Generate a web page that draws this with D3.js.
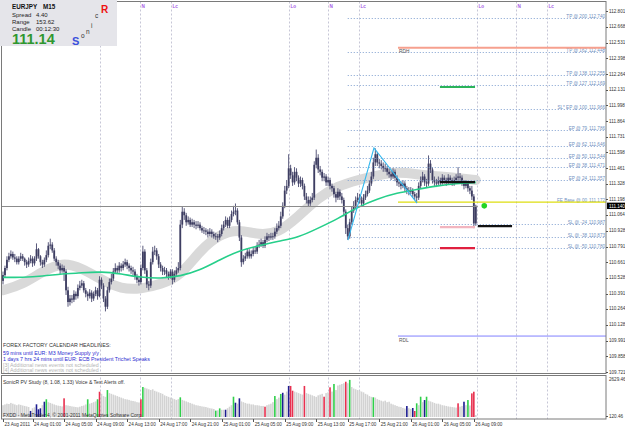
<!DOCTYPE html>
<html><head><meta charset="utf-8">
<script src="https://cdn.jsdelivr.net/npm/d3@7"></script>
<style>body{margin:0;background:#fff}svg{display:block;font-family:"Liberation Sans",Arial,sans-serif}</style>
</head><body><svg id="c" width="625" height="429"></svg>
<script>
// ---------- DATA ----------
const firstOpen = 110.50;
const closes = [
110.55,110.61,110.68,110.71,110.73,110.70,110.69,110.66,110.69,110.71,
110.69,110.66,110.64,110.67,110.69,110.65,110.69,110.77,110.71,110.66,
110.64,110.68,110.72,110.80,110.81,110.76,110.69,110.66,110.63,110.59,
110.61,110.58,110.42,110.32,110.35,110.34,110.39,110.37,110.44,110.46,
110.48,110.42,110.39,110.37,110.40,110.35,110.39,110.42,110.37,110.51,
110.46,110.35,110.28,110.42,110.49,110.52,110.58,110.61,110.59,110.63,
110.61,110.64,110.66,110.63,110.61,110.59,110.58,110.54,110.51,110.49,
110.61,110.75,110.59,110.47,110.46,110.66,110.75,110.76,110.71,110.64,
110.61,110.58,110.59,110.56,110.54,110.58,110.51,110.56,110.59,110.61,
110.98,111.09,111.06,111.00,111.02,110.98,111.00,110.98,110.97,110.98,
110.95,110.93,110.93,110.92,110.90,110.92,110.90,110.88,110.88,110.87,
110.90,110.95,110.98,111.02,110.97,111.02,111.07,111.09,111.10,111.00,
110.87,110.66,110.69,110.71,110.75,110.71,110.73,110.76,110.75,110.80,
110.81,110.83,110.80,110.85,110.88,110.87,110.88,110.88,110.92,110.95,
110.97,111.05,111.14,111.27,111.31,111.46,111.40,111.34,111.43,111.38,
111.33,111.36,111.31,111.22,111.19,111.16,111.19,111.21,111.49,111.55,
111.45,111.43,111.38,111.39,111.34,111.36,111.31,111.29,111.24,111.21,
111.26,111.22,111.19,111.09,110.95,110.88,111.00,111.10,111.14,111.19,
111.21,111.19,111.16,111.21,111.24,111.27,111.33,111.39,111.51,111.58,
111.51,111.50,111.48,111.46,111.46,111.43,111.41,111.39,111.43,111.38,
111.34,111.33,111.31,111.33,111.29,111.27,111.26,111.27,111.24,111.22,
111.21,111.31,111.36,111.39,111.34,111.33,111.50,111.45,111.36,111.34,
111.33,111.36,111.34,111.38,111.36,111.34,111.38,111.36,111.34,111.36,
111.38,111.39,111.38,111.34,111.31,111.33,111.29,111.27,111.22,110.99,111.14];
const highs = [
110.58,110.63,110.71,110.74,110.76,110.75,110.73,110.71,110.71,110.74,
110.73,110.70,110.68,110.70,110.72,110.71,110.71,110.82,110.78,110.72,
110.68,110.70,110.76,110.83,110.86,110.83,110.78,110.71,110.68,110.65,
110.64,110.63,110.60,110.45,110.38,110.38,110.42,110.41,110.47,110.50,
110.51,110.50,110.44,110.41,110.43,110.42,110.41,110.45,110.44,110.54,
110.53,110.48,110.37,110.45,110.52,110.56,110.61,110.65,110.63,110.66,
110.65,110.67,110.69,110.68,110.65,110.63,110.62,110.60,110.56,110.54,
110.64,110.80,110.77,110.61,110.50,110.69,110.79,110.80,110.78,110.73,
110.66,110.63,110.62,110.61,110.58,110.60,110.60,110.59,110.62,110.66,
111.02,111.13,111.12,111.08,111.05,111.04,111.03,111.02,111.01,111.01,
111.00,110.97,110.96,110.95,110.94,110.95,110.94,110.92,110.91,110.90,
110.93,110.98,111.01,111.05,111.04,111.05,111.10,111.14,111.16,111.12,
111.02,110.89,110.72,110.74,110.78,110.77,110.76,110.79,110.79,110.83,
110.85,110.86,110.85,110.88,110.91,110.90,110.91,110.91,110.95,110.99,
111.01,111.09,111.17,111.31,111.36,111.58,111.49,111.43,111.47,111.46,
111.40,111.39,111.38,111.33,111.25,111.22,111.22,111.25,111.52,111.62,
111.58,111.48,111.45,111.42,111.41,111.39,111.38,111.33,111.31,111.26,
111.29,111.28,111.25,111.21,111.11,110.98,111.03,111.13,111.18,111.22,
111.25,111.24,111.22,111.24,111.27,111.31,111.36,111.43,111.55,111.63,
111.60,111.54,111.53,111.51,111.50,111.48,111.46,111.44,111.46,111.45,
111.40,111.37,111.35,111.36,111.35,111.31,111.30,111.30,111.29,111.26,
111.25,111.34,111.39,111.43,111.41,111.37,111.57,111.53,111.47,111.39,
111.37,111.39,111.38,111.41,111.40,111.38,111.41,111.40,111.38,111.39,
111.41,111.47,111.42,111.40,111.36,111.36,111.35,111.31,111.31,111.24,111.15];
const lows = [
110.47,110.53,110.59,110.66,110.69,110.68,110.66,110.64,110.64,110.67,
110.67,110.63,110.61,110.62,110.65,110.62,110.63,110.67,110.69,110.63,
110.61,110.62,110.66,110.70,110.77,110.74,110.67,110.63,110.60,110.56,
110.57,110.50,110.38,110.28,110.29,110.31,110.32,110.34,110.35,110.42,
110.44,110.40,110.36,110.33,110.35,110.32,110.33,110.37,110.34,110.36,
110.43,110.32,110.24,110.26,110.40,110.47,110.50,110.56,110.56,110.57,
110.58,110.59,110.62,110.60,110.58,110.56,110.55,110.51,110.48,110.46,
110.47,110.59,110.56,110.44,110.42,110.44,110.64,110.72,110.68,110.61,
110.58,110.55,110.55,110.53,110.51,110.52,110.47,110.49,110.54,110.57,
110.59,110.95,111.02,110.97,110.98,110.96,110.96,110.95,110.94,110.95,
110.93,110.91,110.90,110.89,110.87,110.88,110.87,110.86,110.85,110.83,
110.85,110.88,110.93,110.96,110.95,110.95,111.00,111.05,111.06,110.98,
110.84,110.62,110.64,110.67,110.69,110.69,110.69,110.71,110.73,110.73,
110.78,110.79,110.78,110.78,110.83,110.84,110.85,110.85,110.86,110.90,
110.93,110.95,111.03,111.12,111.24,111.29,111.37,111.31,111.32,111.35,
111.30,111.30,111.28,111.19,111.16,111.13,111.14,111.17,111.19,111.46,
111.42,111.40,111.35,111.35,111.31,111.31,111.28,111.26,111.21,111.17,
111.19,111.19,111.16,111.05,110.90,110.85,110.86,110.98,111.08,111.12,
111.17,111.16,111.13,111.14,111.19,111.22,111.25,111.31,111.37,111.48,
111.48,111.46,111.45,111.43,111.43,111.40,111.38,111.36,111.37,111.35,
111.31,111.30,111.28,111.29,111.26,111.24,111.23,111.24,111.21,111.19,
111.17,111.19,111.29,111.34,111.31,111.30,111.31,111.42,111.33,111.31,
111.30,111.31,111.31,111.32,111.33,111.31,111.32,111.33,111.31,111.31,
111.33,111.35,111.35,111.31,111.28,111.29,111.26,111.24,111.19,110.95,110.97];
const volumes = [
900,950,1000,980,1050,1000,950,900,950,920,
880,850,820,780,520,700,760,958,628,694,
900,1130,1290,1100,1050,1000,950,900,870,850,
820,1354,900,880,850,820,800,780,760,800,
850,880,950,1290,1000,1050,1100,1150,1290,1790,
1650,1500,1450,1900,1700,1650,1600,1550,1500,1450,
1400,1350,1300,1280,1250,1200,1180,1150,1100,1080,
1290,2100,2050,2000,1950,1900,1950,1850,1800,1750,
1700,1650,1550,1500,1450,1400,1350,1300,1250,1300,
1420,1250,1200,1150,1100,1050,1000,950,900,880,
850,820,800,780,740,700,680,650,540,560,
690,600,600,600,700,800,900,1460,1064,1000,
1354,1150,1100,1050,1000,1000,950,950,900,900,
880,850,850,800,900,950,1000,1100,1506,1300,
1400,1640,1720,1600,1800,2170,2170,1856,1800,1750,
1700,1650,1600,2170,1700,1650,1600,1550,1500,1450,
1550,1600,1650,1460,1700,1750,2080,1800,2300,1900,
2200,2250,2300,2350,2450,2350,2570,2100,2000,1950,
1900,1850,1800,1750,1650,1600,1500,1450,1420,1400,
1300,1250,1200,1150,1200,1100,1130,1000,950,900,
850,800,780,720,680,846,700,650,714,516,
1024,900,1460,1100,1240,1460,1200,1150,1100,1050,
1000,1000,950,900,880,850,820,800,780,760,
740,1024,800,850,1130,900,1240,880,1680,1790,250];
const greenVolBars = [22,43,48,53,71,90,108,110,117,138,141,168,176,188,210,212,215,236];
const redVolBars = [31,49,70,133,146,147,153,163,166,174,209,231,238,239];
const blueVolBars = [14,17,18,19,21,113,118,120,142,145,205,208,214,234];

const maBars = [0,10,20,30,40,50,60,70,80,90,100,110,120,130,140,150,160,170,180,190,200,210,220,230,240];
const bandMA = [110.42,110.47,110.58,110.66,110.61,110.51,110.43,110.43,110.47,110.54,110.76,110.90,110.94,110.89,110.91,111.05,111.21,111.31,111.36,111.40,111.43,111.41,111.39,111.38,111.36];
const greenMA = [110.53,110.53,110.54,110.56,110.57,110.58,110.56,110.53,110.52,110.54,110.59,110.68,110.76,110.80,110.84,110.87,110.95,111.03,111.13,111.20,111.25,111.28,111.31,111.33,111.34];

const priceTickLabels = ["112.801","112.668","112.531","112.398","112.264","112.131","111.998","111.864","111.731","111.598","111.461","111.328","111.198","111.064","110.928","110.791","110.661","110.528","110.391","110.264","110.128","109.991","109.858","109.721"];
const xLabels = ["23 Aug 2011","24 Aug 01:00","24 Aug 05:00","24 Aug 09:00","24 Aug 13:00","24 Aug 17:00","24 Aug 21:00","25 Aug 01:00","25 Aug 05:00","25 Aug 09:00","25 Aug 13:00","25 Aug 17:00","25 Aug 21:00","26 Aug 01:00","26 Aug 05:00","26 Aug 09:00"];
const xLabelBars = [0,15,31,47,63,79,95,111,127,143,159,175,191,207,223,239];

const sessionNames = ["Lo","N","Lc","Lo","N","Lc","Lo","N","Lc"];
const sessionBars = [49.2,69.5,85.3,145.2,165,180.7,240.6,260.4,276.1];

const levelNames = ["TP @ 200","TP @ 162","TP @ 138","TP @ 127","SL* EP @ 100","EP @ 79","EP @ 62","EP @ 50","EP @ 38","EP @ 24","FE Base @ 00","SL @ -24","SL @ -38","SL @ -50"];
const levelValues = [112.740,112.448,112.255,112.169,111.966,111.786,111.646,111.544,111.471,111.357,111.172,110.987,110.873,110.780];
const levelStartBar = 175;

const zigzagBars = [175.1,188.3,210.2];
const zigzagPrices = [110.848,111.633,111.163];

const rdhPrice = 112.488, rdlPrice = 110.030, dayStartBar = 200.5;
const bidPrice = 111.140, bidText = "111.140";
const markerBar = 244.3;

const segPrices = [111.343,112.153,110.958,110.779,110.967];
const segFrom = [221.8,221.8,221.8,221.8,241.1];
const segTo = [239.6,239.6,239.6,239.6,258.4];
const segColors = ["#111111","#2bb35a","#f2b5bf","#e0203f","#111111"];

const volTop = "2629.46", volBottom = "120.46";
const newsLines = ["FOREX FACTORY CALENDAR HEADLINES:","59 mins until EUR: M3 Money Supply y/y","1 days 7 hrs 24 mins until EUR: ECB President Trichet Speaks","[3] Additional news events not scheduled","[4] Additional news events not scheduled"];
const infoRows = [["Spread","4.40"],["Range","153.62"],["Candle","00:12:30"]];

// ---------- CHART ----------
const svg = d3.select("#c");
const L=1.5, R=606, T=1.5, MB=373.5, ST=375.5, SB=419;
const x = d3.scaleLinear().domain([0,240]).range([3,475.8]);
const y = d3.scaleLinear().domain([109.721,112.801]).range([372.3,11]);
const yv = d3.scaleLinear().domain([120.46,2629.46]).range([417,379]);
const opens = closes.map((c,i)=> i===0 ? firstOpen : closes[i-1]);
const infoW = 117, infoH = 46;

svg.append("rect").attr("width",625).attr("height",429).attr("fill","#fff");
const defs = svg.append("defs");
defs.append("clipPath").attr("id","cm").append("rect").attr("x",L).attr("y",T).attr("width",R-L).attr("height",MB-T);
defs.append("clipPath").attr("id","cs").append("rect").attr("x",L).attr("y",ST).attr("width",R-L).attr("height",SB-ST);

const main = svg.append("g").attr("clip-path","url(#cm)");
const sub = svg.append("g").attr("clip-path","url(#cs)");

// session lines
[main, sub].forEach(g=>{
  g.selectAll("line.ses").data(sessionBars).join("line").attr("class","ses")
   .attr("x1",d=>Math.round(x(d))+0.5).attr("x2",d=>Math.round(x(d))+0.5)
   .attr("y1",T).attr("y2",SB).attr("stroke","#c6c6d6").attr("stroke-width",1).attr("stroke-dasharray","2,2");
});
// labels hidden under the info panel are not drawn
const visSessions = sessionBars.map((b,i)=>[b,sessionNames[i]]).filter(d=>x(d[0])>infoW);
main.selectAll("text.ses").data(visSessions).join("text").attr("class","ses")
  .attr("x",d=>Math.round(x(d[0]))+1.5).attr("y",7.5).attr("font-size",4.6).attr("font-weight","bold")
  .attr("fill","#a658e6").text(d=>d[1]);

// gray band
const ma = d3.line().x(d=>x(d[0])).y(d=>y(d[1])).curve(d3.curveBasis);
main.append("path").datum(maBars.map((b,i)=>[b,bandMA[i]])).attr("d",ma)
  .attr("fill","none").attr("stroke","#d9d9d9").attr("stroke-width",10).attr("stroke-linecap","round");

// candles
const cg = main.append("g");
cg.selectAll("line").data(closes).join("line")
  .attr("x1",(d,i)=>x(i)).attr("x2",(d,i)=>x(i))
  .attr("y1",(d,i)=>y(highs[i])).attr("y2",(d,i)=>y(lows[i]))
  .attr("stroke","#5a5a7c").attr("stroke-width",1);
cg.selectAll("rect").data(closes).join("rect")
  .attr("x",(d,i)=>x(i)-0.9).attr("width",1.8)
  .attr("y",(d,i)=>y(Math.max(d,opens[i])))
  .attr("height",(d,i)=>Math.max(0.8, Math.abs(y(d)-y(opens[i]))))
  .attr("fill","#3e3e62");

// green MA
main.append("path").datum(maBars.map((b,i)=>[b,greenMA[i]])).attr("d",ma)
  .attr("fill","none").attr("stroke","#26cf8a").attr("stroke-width",1.6);

// level lines
const lv = main.append("g");
lv.selectAll("line").data(levelValues).join("line")
  .attr("x1",x(levelStartBar)).attr("x2",R).attr("y1",d=>Math.round(y(d))+0.5).attr("y2",d=>Math.round(y(d))+0.5)
  .attr("stroke",(d,i)=>i===10?"none":"#7f9fcf").attr("stroke-width",1).attr("stroke-dasharray","1,2");
lv.selectAll("text.nm").data(levelValues).join("text").attr("class","nm")
  .attr("x",587).attr("y",d=>Math.round(y(d))-0.5).attr("text-anchor","end").attr("font-size",4.6)
  .attr("fill","#6f8fc0").text((d,i)=>levelNames[i]);
lv.selectAll("text.vl").data(levelValues).join("text").attr("class","vl")
  .attr("x",605).attr("y",d=>Math.round(y(d))-0.5).attr("text-anchor","end").attr("font-size",4.6)
  .attr("fill","#6f8fc0").text(d=>d.toFixed(3));

// RDH / RDL / FE base
main.append("line").attr("x1",x(dayStartBar)).attr("x2",R).attr("y1",y(rdhPrice)).attr("y2",y(rdhPrice))
  .attr("stroke","#f6a08e").attr("stroke-width",2);
main.append("text").attr("x",x(dayStartBar)+1).attr("y",y(rdhPrice)+5.5).attr("font-size",4.8).attr("fill","#555").text("RDH");
main.append("line").attr("x1",x(dayStartBar)).attr("x2",R).attr("y1",y(rdlPrice)).attr("y2",y(rdlPrice))
  .attr("stroke","#8080ff").attr("stroke-width",1);
main.append("text").attr("x",x(dayStartBar)+1).attr("y",y(rdlPrice)+5.5).attr("font-size",4.8).attr("fill","#555").text("RDL");
main.append("line").attr("x1",x(dayStartBar)).attr("x2",R).attr("y1",y(levelValues[10])).attr("y2",y(levelValues[10]))
  .attr("stroke","#dede10").attr("stroke-width",1.4);

// bid line
main.append("line").attr("x1",L).attr("x2",x(241)).attr("y1",Math.round(y(bidPrice))+0.5).attr("y2",Math.round(y(bidPrice))+0.5)
  .attr("stroke","#8c8c8c").attr("stroke-width",1);

// zigzag
main.append("path").datum(zigzagBars.map((b,i)=>[b,zigzagPrices[i]]))
  .attr("d",d3.line().x(d=>x(d[0])).y(d=>y(d[1])))
  .attr("fill","none").attr("stroke","#35b8ee").attr("stroke-width",1.1);

// short segments
main.selectAll("line.seg").data(segPrices).join("line").attr("class","seg")
  .attr("x1",(d,i)=>x(segFrom[i])).attr("x2",(d,i)=>x(segTo[i]))
  .attr("y1",d=>y(d)).attr("y2",d=>y(d)).attr("stroke",(d,i)=>segColors[i]).attr("stroke-width",2.2);

// marker
main.append("circle").attr("cx",x(markerBar)).attr("cy",y(bidPrice)).attr("r",2.8).attr("fill","#22d422");

// news text
svg.selectAll("text.news").data(newsLines).join("text").attr("class","news")
  .attr("x",3).attr("y",(d,i)=>[347,355,360.8,366.5,372][i]).attr("font-size",5.3)
  .attr("fill",(d,i)=>i===0?"#333":(i<3?"#2b2bd0":"#b4b4b4")).text(d=>d);

// volumes
const col = i => greenVolBars.includes(i)?"#2fcf4a":redVolBars.includes(i)?"#e8304f":blueVolBars.includes(i)?"#1c1c90":"#d3d3d3";
sub.selectAll("rect.v").data(volumes).join("rect").attr("class","v")
  .attr("x",(d,i)=>x(i)-0.8).attr("width",1.6)
  .attr("y",d=>yv(d)).attr("height",d=>yv(120.46)-yv(d)).attr("fill",(d,i)=>col(i));
svg.append("text").attr("x",3).attr("y",383.5).attr("font-size",5).attr("fill","#333")
  .text("SonicR PV Study (8, 1.08, 1.33)   Voice & Text Alerts off.");
svg.append("text").attr("x",3).attr("y",416.5).attr("font-size",4.9).attr("fill","#333")
  .text("FXDD - MetaTrader 4, \u00a9 2001-2011 MetaQuotes Software Corp.");

// frames
const fr = svg.append("g").attr("fill","none").attr("stroke","#7a7a7a").attr("stroke-width",1);
fr.append("rect").attr("x",L).attr("y",T).attr("width",R-L).attr("height",MB-T);
fr.append("rect").attr("x",L).attr("y",ST).attr("width",R-L).attr("height",SB-ST);

// price axis
const pa = svg.append("g");
pa.selectAll("line").data(priceTickLabels).join("line")
  .attr("x1",R).attr("x2",R+2).attr("y1",d=>Math.round(y(+d))+0.5).attr("y2",d=>Math.round(y(+d))+0.5).attr("stroke","#555");
pa.selectAll("text").data(priceTickLabels).join("text")
  .attr("x",609).attr("y",d=>y(+d)+1.6).attr("font-size",4.6).attr("fill","#333").text(d=>d);
pa.append("rect").attr("x",607).attr("y",y(bidPrice)-3.2).attr("width",18).attr("height",6.4).attr("fill","#000");
pa.append("text").attr("x",609).attr("y",y(bidPrice)+1.7).attr("font-size",4.6).attr("fill","#fff").text(bidText);
pa.append("text").attr("x",609).attr("y",380.5).attr("font-size",4.6).attr("fill","#333").text(volTop);
pa.append("line").attr("x1",R).attr("x2",R+2).attr("y1",416.5).attr("y2",416.5).attr("stroke","#555");
pa.append("text").attr("x",609).attr("y",418.2).attr("font-size",4.6).attr("fill","#333").text(volBottom);

// time axis
const ta = svg.append("g");
ta.selectAll("line").data(xLabelBars).join("line")
  .attr("x1",d=>Math.round(x(d))+0.5).attr("x2",d=>Math.round(x(d))+0.5).attr("y1",SB).attr("y2",SB+3).attr("stroke","#555");
ta.selectAll("text").data(xLabelBars).join("text")
  .attr("x",d=>x(d)+1.5).attr("y",425.8).attr("font-size",4.6).attr("fill","#333").text((d,i)=>xLabels[i]);

// info box
const ib = svg.append("g");
ib.append("rect").attr("x",0).attr("y",0).attr("width",infoW).attr("height",infoH).attr("fill","#e5e5ea");
ib.append("text").attr("x",12).attr("y",8.5).attr("font-size",6.3).attr("font-weight","bold").attr("fill","#111").text("EURJPY");
ib.append("text").attr("x",43).attr("y",8.5).attr("font-size",6.3).attr("font-weight","bold").attr("fill","#111").text("M15");
ib.selectAll("text.r1").data(infoRows).join("text").attr("class","r1")
  .attr("x",12).attr("y",(d,i)=>17+i*6.8).attr("font-size",6).attr("fill","#222").text(d=>d[0]);
ib.selectAll("text.r2").data(infoRows).join("text").attr("class","r2")
  .attr("x",36).attr("y",(d,i)=>17+i*6.8).attr("font-size",6).attr("fill","#222").text(d=>d[1]);
ib.append("text").attr("x",12).attr("y",44).attr("font-size",14.5).attr("font-weight","bold").attr("fill","#2f972f").text(bidPrice.toFixed(2));
const sonic = [["S",72,45,11,"#3a4fdc","bold"],["o",81,37.5,6.5,"#333","normal"],["n",86,34,6.5,"#333","normal"],["i",91,28,6.5,"#333","normal"],["c",95,17.5,6.5,"#333","normal"],["R",101,12.5,10,"#ee1111","bold"]];
ib.selectAll("text.s").data(sonic).join("text").attr("class","s")
  .attr("x",d=>d[1]).attr("y",d=>d[2]).attr("font-size",d=>d[3]).attr("fill",d=>d[4]).attr("font-weight",d=>d[5]).text(d=>d[0]);
</script></body></html>
